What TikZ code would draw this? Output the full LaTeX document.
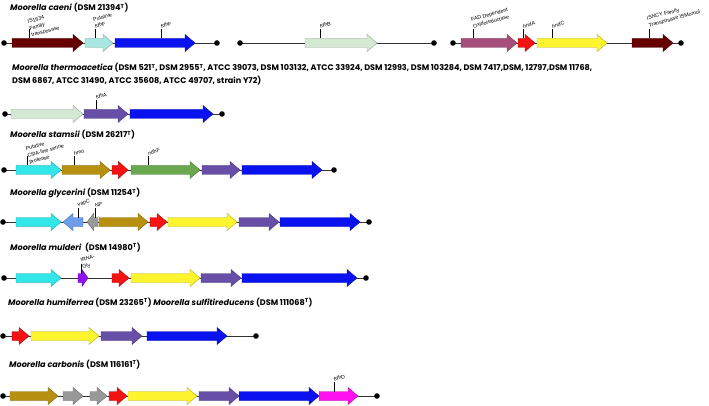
\documentclass[tikz,border=0pt]{standalone}
\usepackage{fontspec}
\setmainfont{Poppins}
\newfontfamily\lblfont{Liberation Sans}
\usepackage{tikz}
\definecolor{cmar}{HTML}{660000}
\definecolor{cpl}{HTML}{A8E6E2}
\definecolor{cb}{HTML}{0A12F0}
\definecolor{clg}{HTML}{D5E8D4}
\definecolor{cmv}{HTML}{A64D79}
\definecolor{cr}{HTML}{F51212}
\definecolor{cy}{HTML}{FFF52E}
\definecolor{ccy}{HTML}{30E6E8}
\definecolor{cbr}{HTML}{B8900F}
\definecolor{cgr}{HTML}{6AA84F}
\definecolor{cpu}{HTML}{674EA7}
\definecolor{ccf}{HTML}{6D9EEB}
\definecolor{cgy}{HTML}{999999}
\definecolor{cvi}{HTML}{9010F0}
\definecolor{cmg}{HTML}{FF10F0}
% gene arrow: from x1 to x2 (x2<x1 points left), on backbone y, fill colour
\newcommand{\gene}[4]{%
  \pgfmathsetmacro\hdlen{min(10,0.6*abs(#2-#1))*sign(#2-#1)}
  \filldraw[fill=#4, draw=#4!70!black, line width=0.4pt] (#1,#3-4.5) -- (#2-\hdlen,#3-4.5) -- (#2-\hdlen,#3-8.5) -- (#2,#3)
    -- (#2-\hdlen,#3+8.5) -- (#2-\hdlen,#3+4.5) -- (#1,#3+4.5) -- cycle;}
% label on a tick above a gene: [anchor], name, x, y, text
\newcommand{\genetag}[5][south west]{%
  \draw[line width=0.5pt] (#3,#4-4.5) -- (#3,#4-14) node[genelbl, anchor=#1] (#2) {#5};}

\begin{document}
\begin{tikzpicture}[x=1pt,y=-1pt,
  spname/.style={font=\bfseries\fontsize{8.1}{13}\selectfont, anchor=base west, inner sep=0pt, align=left},
  genelbl/.style={font=\lblfont\fontsize{5.3}{7}\selectfont, rotate=15, align=left, inner sep=0.5pt}]
  \useasboundingbox (0,0) rectangle (709,406);

  % species names
  \node[spname] (t1) at (10,11) {\textit{Moorella caeni} (DSM 21394\textsuperscript{T})};
  \node[spname] (t2) at (12,84) {\textit{Moorella thermoacetica} (DSM 521\textsuperscript{T}, DSM 2955\textsuperscript{T}, ATCC 39073, DSM 103132, ATCC 33924, DSM 12993, DSM 103284, DSM 7417,DSM, 12797,DSM 11768,\\DSM 6867, ATCC 31490, ATCC 35608, ATCC 49707, strain Y72)};
  \node[spname] (t3) at (10,138) {\textit{Moorella stamsii} (DSM 26217\textsuperscript{T})};
  \node[spname] (t4) at (10,196) {\textit{Moorella glycerini} (DSM 11254\textsuperscript{T})};
  \node[spname] (t5) at (10,250) {\textit{Moorella mulderi}\ \ (DSM 14980\textsuperscript{T})};
  \node[spname] (t6) at (8,305) {\textit{Moorella humiferrea} (DSM 23265\textsuperscript{T}) \textit{Moorella sulfitireducens} (DSM 111068\textsuperscript{T})};
  \node[spname] (t7) at (9,367) {\textit{Moorella carbonis} (DSM 116161\textsuperscript{T})};

  % backbones
  \foreach \n/\xa/\xb/\y in {r1a/4/217/43, r1b/240/434/43, r1c/453/681/43, r2/5/222/114, r3/4/334/170,
                             r4/3/369/222, r5/4/366/278, r6/3/256/336, r7/3/377/396} {
    \coordinate (\n-s) at (\xa,\y);
    \coordinate (\n-e) at (\xb,\y);
    \draw[line width=0.8pt, black!80] (\n-s) -- (\n-e);}

  % genes
  \foreach \a/\b/\c in {12/83/cmar, 85/113/cpl, 115/195/cb, 305/377/clg, 461/517/cmv, 518/535/cr, 537/607/cy, 632/673/cmar}
    \gene{\a}{\b}{43}{\c};
  \foreach \a/\b/\c in {11/83/clg, 84/128/cpu, 130/213/cb}
    \gene{\a}{\b}{114}{\c};
  \foreach \a/\b/\c in {16/61/ccy, 62/110/cbr, 112/128/cr, 131/200/cgr, 202/240/cpu, 242/322/cb}
    \gene{\a}{\b}{170}{\c};
  \foreach \a/\b/\c in {16/61/ccy, 83/63/ccf, 98/87/cgy, 99/148/cbr, 150/167/cr, 168/237/cy, 239/279/cpu, 280/360/cb}
    \gene{\a}{\b}{222}{\c};
  \foreach \a/\b/\c in {16/61/ccy, 78/88/cvi, 112/129/cr, 131/200/cy, 201/241/cpu, 242/357/cb}
    \gene{\a}{\b}{278}{\c};
  \foreach \a/\b/\c in {12/29/cr, 31/99/cy, 101/142/cpu, 147/227/cb}
    \gene{\a}{\b}{336}{\c};
  \foreach \a/\b/\c in {10/58/cbr, 63/83/cgy, 90/107/cgy, 109/127/cr, 128/197/cy, 199/239/cpu, 239/319/cb, 319/358/cmg}
    \gene{\a}{\b}{396}{\c};

  % end dots
  \foreach \n in {r1a,r1b,r1c,r2,r3,r4,r5,r6,r7} {
    \fill (\n-s) circle (2.8pt);
    \fill (\n-e) circle (2.8pt);}

  % gene labels
  \genetag[west]{is1634}{29}{43}{IS1634\\Family\\transposase}
  \genetag{pfdhf}{95}{43}{Putative\\fdhF}
  \genetag{fdhf}{161}{43}{fdhF}
  \genetag{fdhb}{320}{43}{fdhB}
  \genetag{fad}{473}{43}{FAD Dependent\\Oxidoreductase}
  \genetag{hnda}{523}{43}{hndA}
  \genetag{hndc}{552}{43}{hndC}
  \genetag{isncy}{649}{43}{ISNCY Family\\Transposase ISMomul}
  \genetag{fdha}{96}{114}{fdhA}
  \genetag[west]{clpa}{27}{170}{Putative\\ClpA-line serine\\protease}
  \genetag{hmo}{74}{170}{hmo}
  \genetag{ndhf}{148}{170}{ndhF}
  \genetag{vapc}{78}{222}{vapC}
  \genetag{np}{95}{222}{NP}
  \genetag[west]{trna}{81}{278}{tRNA-\\Gly}
  \genetag{fdhd}{334}{396}{fdhD}
\end{tikzpicture}
\end{document}
